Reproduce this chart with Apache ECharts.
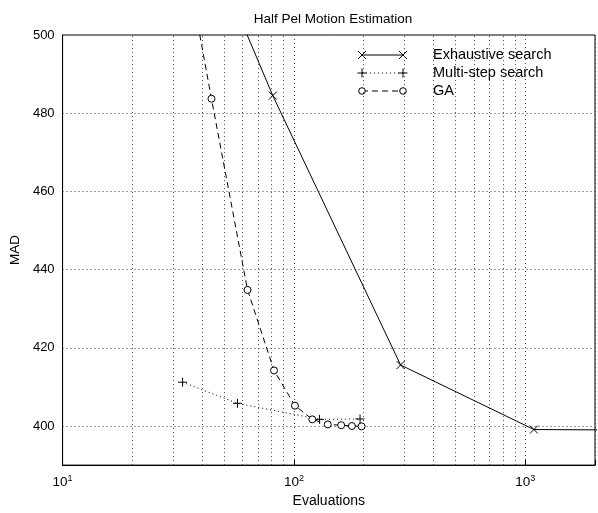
<!DOCTYPE html>
<html>
<head>
<meta charset="utf-8">
<script src="https://cdn.jsdelivr.net/npm/echarts@6/dist/echarts.min.js"></script>
<style>
html,body{margin:0;padding:0;background:#fff;}
#chart{width:598px;height:513px;}
</style>
</head>
<body>
<div id="chart"></div>
<script>
// ---- data ----
const exhaustiveX = [25, 81, 289, 1089, 4225];
const exhaustiveY = [556, 484.5, 415.6, 399.1, 398.9];
const multiX = [33, 57, 129, 193];
const multiY = [411.2, 405.8, 401.7, 401.8];
const gaX = [25, 44, 63, 82, 101, 120, 140, 160, 178, 196];
const gaY = [563, 483.7, 434.8, 414.2, 405.2, 401.7, 400.4, 400.2, 400.0, 399.9];
const seriesNames = ['Exhaustive search', 'Multi-step search', 'GA'];
const yTickLabels = [400, 420, 440, 460, 480, 500];
const xMinorGrid = [20, 30, 40, 50, 60, 70, 80, 90, 200, 300, 400, 500, 600, 700, 800, 900];
const yGrid = [400, 420, 440, 460, 480];

const FONT = 'Liberation Sans, Arial, Helvetica, sans-serif';
const pairs = (xs, ys) => xs.map((x, i) => [x, ys[i]]);
const crossPath = 'path://M0,0L10,10M10,0L0,10';
const plusPath = 'path://M5,0L5,10M0,5L10,5';
const gridDot = {color: '#444', width: 1, type: [1, 3]};

const chart = echarts.init(document.getElementById('chart'), null, {renderer: 'canvas'});

const markLines = xMinorGrid.map(v => ({xAxis: v})).concat(yGrid.map(v => ({yAxis: v})));

// legend drawn as graphics (line sample with markers at both ends)
const legX0 = 362, legX1 = 403, legTextX = 433;
const legY = [55, 73, 91];
function markerGraphic(kind, cx, cy) {
  if (kind === 'x') {
    return [
      {type: 'line', shape: {x1: cx - 4, y1: cy - 4, x2: cx + 4, y2: cy + 4}, style: {stroke: '#000', lineWidth: 1}},
      {type: 'line', shape: {x1: cx - 4, y1: cy + 4, x2: cx + 4, y2: cy - 4}, style: {stroke: '#000', lineWidth: 1}}
    ];
  } else if (kind === '+') {
    return [
      {type: 'line', shape: {x1: cx - 4.5, y1: cy, x2: cx + 4.5, y2: cy}, style: {stroke: '#000', lineWidth: 1}},
      {type: 'line', shape: {x1: cx, y1: cy - 4.5, x2: cx, y2: cy + 4.5}, style: {stroke: '#000', lineWidth: 1}}
    ];
  }
  return [{type: 'circle', shape: {cx: cx, cy: cy, r: 3.3}, style: {stroke: '#000', fill: '#fff', lineWidth: 1}}];
}
const legendKinds = ['x', '+', 'o'];
const legendDash = [null, [1, 3], [6, 4]];
let graphics = [];
seriesNames.forEach((name, i) => {
  const y = legY[i];
  graphics.push({type: 'line', shape: {x1: legX0, y1: y, x2: legX1, y2: y},
    style: {stroke: '#000', lineWidth: 1, lineDash: legendDash[i]}});
  graphics = graphics.concat(markerGraphic(legendKinds[i], legX0, y), markerGraphic(legendKinds[i], legX1, y));
  graphics.push({type: 'text', x: legTextX, y: y,
    style: {text: name, font: '14.5px ' + FONT, fill: '#000', textVerticalAlign: 'middle'}});
});

const option = {
  animation: false,
  backgroundColor: '#fff',
  title: {
    text: 'Half Pel Motion Estimation',
    left: 328, top: 7, textAlign: 'center',
    textStyle: {fontFamily: FONT, fontSize: 13.5, fontWeight: 'normal', color: '#000'}
  },
  grid: {left: 58, top: 35, right: -2, bottom: 39, show: true, borderColor: '#000', borderWidth: 1, containLabel: false},
  xAxis: {
    type: 'log', logBase: 10, min: 10, max: 2000,
    name: 'Evaluations', nameLocation: 'middle', nameGap: 27,
    nameTextStyle: {fontFamily: FONT, fontSize: 14, color: '#000'},
    axisLine: {show: true, lineStyle: {color: '#000'}},
    axisTick: {show: true, inside: true, length: 5, lineStyle: {color: '#000'}},
    splitLine: {show: true, lineStyle: gridDot},
    axisLabel: {
      margin: 9, color: '#000', fontFamily: FONT, fontSize: 13,
      formatter: function (v) {
        const e = Math.round(Math.log10(v));
        if (Math.abs(v - Math.pow(10, e)) < 1e-6 * v) return '{b|10}{s|' + e + '}';
        return '';
      },
      rich: {
        b: {fontFamily: FONT, fontSize: 13.5, color: '#000', lineHeight: 16},
        s: {fontFamily: FONT, fontSize: 9, color: '#000', verticalAlign: 'top', lineHeight: 16, padding: [0, 0, 6, 0]}
      }
    }
  },
  yAxis: {
    type: 'value', min: 390, max: 500, interval: 10,
    name: 'MAD', nameLocation: 'middle', nameGap: 29, nameRotate: 90,
    nameTextStyle: {fontFamily: FONT, fontSize: 13.5, color: '#000'},
    axisLine: {show: true, lineStyle: {color: '#000'}},
    axisTick: {show: false},
    splitLine: {show: false},
    axisLabel: {
      margin: 8, color: '#000', fontFamily: FONT, fontSize: 13,
      formatter: function (v) { return yTickLabels.indexOf(v) >= 0 ? String(v) : ''; }
    }
  },
  graphic: graphics,
  series: [
    {
      name: seriesNames[0], type: 'line', data: pairs(exhaustiveX, exhaustiveY),
      symbol: crossPath, symbolSize: 8, showAllSymbol: true,
      itemStyle: {color: '#000', borderColor: '#000', borderWidth: 1},
      lineStyle: {color: '#000', width: 1, type: 'solid'},
      z: 3,
      markLine: {silent: true, symbol: 'none', label: {show: false}, lineStyle: gridDot, data: markLines, animation: false, z: 1}
    },
    {
      name: seriesNames[1], type: 'line', data: pairs(multiX, multiY),
      symbol: plusPath, symbolSize: 9,
      itemStyle: {color: '#000', borderColor: '#000', borderWidth: 1},
      lineStyle: {color: '#000', width: 1, type: [1, 3]},
      z: 3
    },
    {
      name: seriesNames[2], type: 'line', data: pairs(gaX, gaY),
      symbol: 'circle', symbolSize: 7,
      itemStyle: {color: '#fff', borderColor: '#000', borderWidth: 1},
      lineStyle: {color: '#000', width: 1, type: [6, 4]},
      z: 4
    }
  ]
};
chart.setOption(option);
</script>
</body>
</html>
